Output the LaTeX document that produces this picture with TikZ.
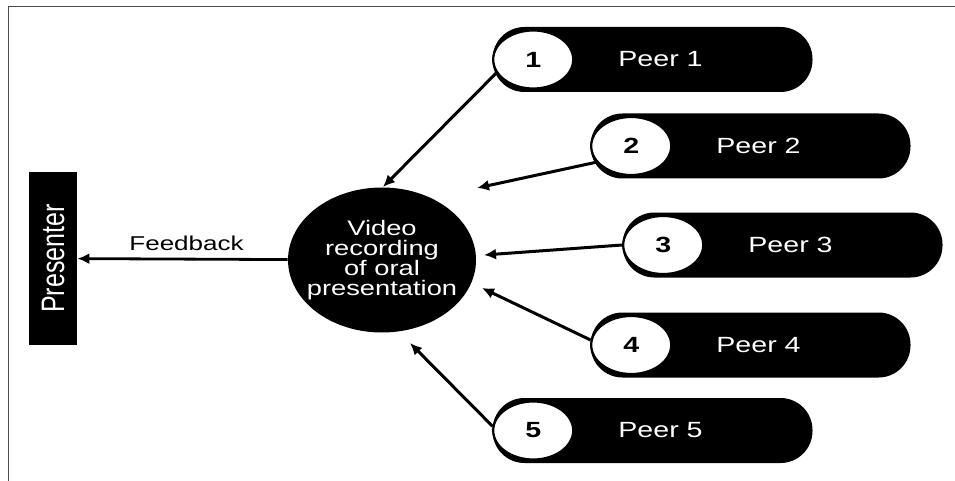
\documentclass[tikz,border=0pt]{standalone}
\usepackage{fontspec}
\usepackage{graphicx}
\setmainfont{Liberation Sans}[FakeStretch=1.3]
\newfontfamily\plainsans{Liberation Sans}
\usetikzlibrary{arrows.meta, shapes.geometric}

\begin{document}
\begin{tikzpicture}[x=1pt, y=-1pt, thick]

  % Colors
  \definecolor{framegray}{RGB}{75,75,75}

  \tikzset{
    pill/.style={fill=black, text=white, rounded corners=32pt, minimum width=320pt,
      minimum height=65pt, font=\fontsize{22}{24}\selectfont,
      execute at begin node=\hspace*{16pt}},
    numcirc/.style={ellipse, fill=white, draw=black, line width=2.2pt, minimum width=80pt,
      minimum height=58pt, inner sep=0pt, font=\bfseries\fontsize{22}{24}\selectfont},
    peerarrow/.style={-{Latex[length=12pt, width=11pt]}, line width=3pt}
  }

  \useasboundingbox (0,0) rectangle (955,481);

  % Frame (top and left edges)
  \draw[framegray, line width=1.8pt] (8.5,481) -- (8.5,6.5) -- (955,6.5);

  % Presenter
  \node[fill=black, text=white, rotate=90, minimum width=173pt, minimum height=48pt, inner sep=0pt]
    (presenter) at (53,258.5) {\plainsans\fontsize{25}{28}\selectfont\scalebox{1}[1.3]{Presenter}};

  % Video recording
  \node[ellipse, fill=black, minimum width=188pt, minimum height=145pt, inner sep=0pt]
    (video) at (382,260) {};
  \node[text=white, align=center, font=\fontsize{21}{20}\selectfont] (videotext) at (video)
    {Video\\recording\\of oral\\presentation};

  % Feedback arrow
  \draw[-{Latex[length=12pt, width=11pt]}, line width=2.8pt] (video) --
    node[above, yshift=4pt, xshift=4pt, font=\fontsize{20}{24}\selectfont] {Feedback} (presenter);

  % Peers
  \node[pill] (p1) at (652.5,59.5) {Peer 1};
  \node[pill] (p2) at (750.5,146) {Peer 2};
  \node[pill] (p3) at (782.5,245) {Peer 3};
  \node[pill] (p4) at (750.5,345) {Peer 4};
  \node[pill] (p5) at (652.5,430.5) {Peer 5};

  % Number circles
  \node[numcirc, anchor=west] (n1) at (p1.west) {1};
  \node[numcirc, anchor=west] (n2) at (p2.west) {2};
  \node[numcirc, anchor=west] (n3) at (p3.west) {3};
  \node[numcirc, anchor=west] (n4) at (p4.west) {4};
  \node[numcirc, anchor=west] (n5) at (p5.west) {5};

  % Arrow tips near the recording
  \coordinate (t1) at (383,187);
  \coordinate (t2) at (477,188);
  \coordinate (t3) at (484,255);
  \coordinate (t4) at (482,288);
  \coordinate (t5) at (410,343);

  % Peer arrows
  \draw[peerarrow] (n1.200) -- (t1);
  \draw[peerarrow] (n2.205) -- (t2);
  \draw[peerarrow] (n3.west) -- (t3);
  \draw[peerarrow] (n4.173) -- (t4);
  \draw[peerarrow] (n5.174) -- (t5);

\end{tikzpicture}
\end{document}
